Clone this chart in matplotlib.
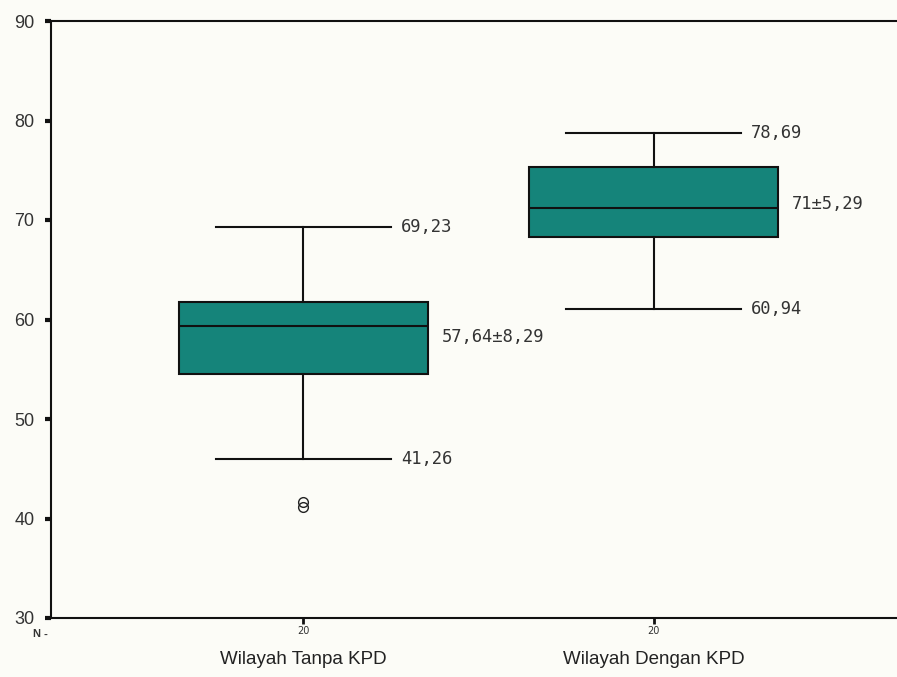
import matplotlib.pyplot as plt

# Box statistics
groups = ['Wilayah Tanpa KPD', 'Wilayah Dengan KPD']
n_counts = ['20', '20']
whisker_lo = [45.98, 61.02]
q1 = [54.5, 68.3]
medians = [59.35, 71.17]
q3 = [61.8, 75.3]
whisker_hi = [69.3, 78.7]
outliers = [[41.2, 41.7], []]
means = [57.64, 71.0]

# annotation texts
hi_labels = ['69,23', '78,69']
lo_labels = ['41,26', '60,94']
mid_labels = ['57,64±8,29', '71±5,29']

BOX_COLOR = '#15847a'
BG = '#fcfcf7'

fig = plt.figure(figsize=(8.97, 6.77), dpi=100, facecolor=BG)
ax = fig.add_axes([51 / 897, 59 / 677, 1 - 51 / 897 + 0.01, 597 / 677])
ax.set_facecolor(BG)

positions = [1, 2]
stats = []
for i in range(len(groups)):
    stats.append(dict(whislo=whisker_lo[i], q1=q1[i], med=medians[i], q3=q3[i],
                      whishi=whisker_hi[i], fliers=outliers[i], label=groups[i]))

ax.bxp(stats, positions=positions, widths=0.71, patch_artist=True,
       showfliers=True,
       boxprops=dict(facecolor=BOX_COLOR, edgecolor='#111111', linewidth=1.5),
       medianprops=dict(color='#111111', linewidth=1.5),
       whiskerprops=dict(color='#111111', linewidth=1.5),
       capprops=dict(color='#111111', linewidth=1.5),
       capwidths=0.5,
       flierprops=dict(marker='o', markerfacecolor='none', markeredgecolor='#222222',
                       markersize=7, markeredgewidth=1.0))

mono = dict(family='DejaVu Sans Mono', fontsize=12.3, color='#333333')
for i, p in enumerate(positions):
    ax.text(p + 0.278, whisker_hi[i], hi_labels[i], va='center', ha='left', **mono)
    ax.text(p + 0.278, whisker_lo[i], lo_labels[i], va='center', ha='left', **mono)
    ax.text(p + 0.395, means[i] + 0.6, mid_labels[i], va='center', ha='left', **mono)

ax.set_ylim(30, 90)
ax.set_xlim(0.28, 2.72)
ax.set_yticks([30, 40, 50, 60, 70, 80, 90])
ax.tick_params(axis='y', direction='out', length=4, width=3, color='#111111',
               labelsize=13, labelcolor='#333333', pad=8)
for lab in ax.get_yticklabels():
    lab.set_family('Liberation Sans')

ax.set_xticks(positions)
ax.set_xticklabels(n_counts, fontsize=7, color='#333333')
ax.tick_params(axis='x', direction='out', length=4, width=2, color='#111111', pad=2)

for i, p in enumerate(positions):
    ax.text(p, -0.07, groups[i], transform=ax.get_xaxis_transform(), ha='center',
            va='center', family='Liberation Sans', fontsize=13.5, color='#222222')
ax.text(0.28 - 0.05, -0.027, 'N -', transform=ax.get_xaxis_transform(), ha='left',
        va='center', family='Liberation Sans', fontsize=8, color='#333333',
        fontweight='bold')

for s in ['left', 'bottom', 'top']:
    ax.spines[s].set_linewidth(1.5)
    ax.spines[s].set_color('#111111')
ax.spines['right'].set_visible(False)

fig.savefig('out.png', dpi=100, facecolor=BG)
